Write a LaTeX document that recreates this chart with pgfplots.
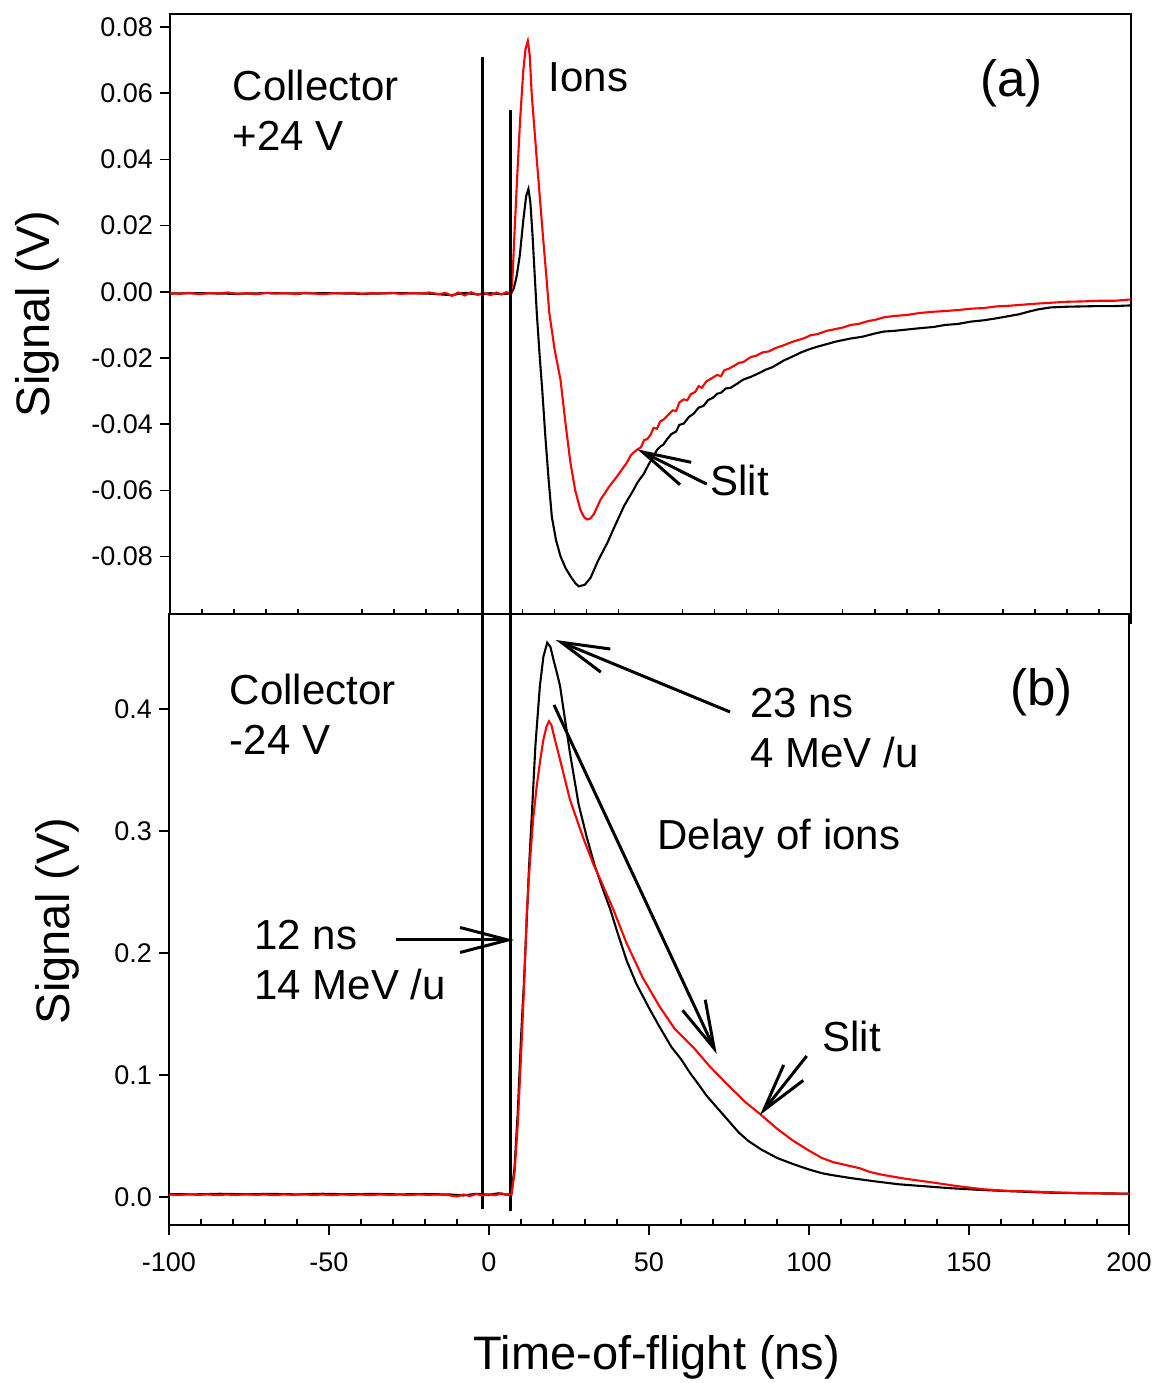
\documentclass[border=0pt]{standalone}
\usepackage{fontspec}
\setmainfont{Liberation Sans}
\usepackage{pgfplots}
\pgfplotsset{compat=1.18}
\usetikzlibrary{arrows.meta}

\pgfplotsset{
  panel/.style={
    scale only axis,
    xmin=-100, xmax=200,
    clip=false,
    scaled ticks=false,
    axis line style={line width=1pt},
    every tick/.style={line width=0.8pt, black},
    tick align=outside,
    major tick length=5pt,
    xtick={-100,-50,0,50,100,150,200},
    extra x ticks={-90,-80,-70,-60,-40,-30,-20,-10,10,20,30,40,60,70,80,90,110,120,130,140,160,170,180,190},
    extra x tick style={tick align=inside, major tick length=2.8pt},
    extra x tick labels={},
    xtick pos=left, ytick pos=left,
    ticklabel style={font=\fontsize{13.5}{15}\selectfont},
    xticklabel style={yshift=-5.5pt},
  },
}
\tikzset{
  ann/.style={font=\fontsize{21}{25}\selectfont, inner sep=0pt, anchor=base west},
  big/.style={font=\fontsize{25.5}{30}\selectfont, inner sep=0pt, anchor=base west},
  arr/.style={line width=1.5pt, -{Straight Barb[length=24pt,width=12.5pt]}},
  blk/.style={black, line width=1.05pt},
  rd/.style={red, line width=1.05pt},
}

\begin{document}
\begin{tikzpicture}
\useasboundingbox (-84.5pt,-79pt) rectangle (493pt,612.5pt);

% ---------------- panel (a) ----------------
\begin{axis}[panel,
  at={(0.5pt,305.25pt)}, anchor=south west,
  width=480.5pt, height=300.5pt,
  ymin=-0.0975, ymax=0.0841,
  ytick={-0.08,-0.06,-0.04,-0.02,0,0.02,0.04,0.06,0.08},
  yticklabels={-0.08,-0.06,-0.04,-0.02,0.00,0.02,0.04,0.06,0.08},
  xticklabels={},
]
\addplot[blk] coordinates {
(-100,-0.0005) (-90,-0.0004) (-80,-0.0006) (-70,-0.0004) (-60,-0.0005) (-50,-0.0004)
(-40,-0.0006) (-30,-0.0004) (-20,-0.0005) (-12,-0.0010) (-8,-0.0003) (-4,-0.0008)
(0,-0.0004) (3,-0.0007) (6.5,-0.0005)
(7.3,0.001) (8.2,0.0046) (9.2,0.011) (10.3,0.0217) (11.2,0.029) (11.9,0.0311)
(12.5,0.027) (13.2,0.0167) (13.8,0.006) (14.5,-0.0063) (15.3,-0.018) (16.2,-0.0296)
(17.2,-0.044) (18.2,-0.0568) (19.2,-0.068) (20.5,-0.075) (21.9,-0.0799) (23.5,-0.0835)
(25,-0.0859) (26.5,-0.0880) (27.6,-0.0890) (29.5,-0.0885) (31.3,-0.0864) (33.5,-0.0815)
(36.5,-0.0759) (39,-0.0705) (41.7,-0.0648)
(43,-0.0626) (44.5,-0.0602) (46,-0.0575) (47.9,-0.0550) (49.5,-0.0520) (51,-0.0495)
(52,-0.0478) (53.1,-0.0467) (54,-0.0462) (55.2,-0.0445) (56.5,-0.0430) (58,-0.0422)
(59,-0.0402) (60.4,-0.0398) (62,-0.0378) (63.5,-0.0368) (65,-0.0350) (66.5,-0.0345)
(68,-0.0327) (69.5,-0.0320) (70.8,-0.0308) (72,-0.0305) (73.5,-0.0292) (75,-0.0290)
(77,-0.0278) (79,-0.0265) (81.3,-0.0257) (84,-0.0245) (86,-0.0235) (88,-0.0228)
(91.7,-0.0207) (94,-0.0197) (97,-0.0183) (100,-0.0172) (102,-0.0166) (105,-0.0158)
(108,-0.0150) (112.5,-0.0141) (116,-0.0136) (120,-0.0126) (122.9,-0.0120) (126,-0.0118)
(130,-0.0114) (134,-0.0110) (138.5,-0.0106) (142,-0.0100) (146,-0.0097) (150,-0.0090)
(154,-0.0086) (158,-0.0080) (162,-0.0073) (165,-0.0068) (168,-0.0060) (171,-0.0053)
(175,-0.0047) (180,-0.0045) (185,-0.0044) (190,-0.0043) (195,-0.0043) (200,-0.0041)
};
\addplot[rd] coordinates {
(-100,-0.0004) (-97,-0.0006) (-94,-0.0003) (-91,-0.0007) (-88,-0.0004) (-85,-0.0005)
(-82,-0.0002) (-79,-0.0006) (-76,-0.0004) (-73,-0.0007) (-70,-0.0003) (-67,-0.0005)
(-64,-0.0004) (-61,-0.0006) (-58,-0.0003) (-55,-0.0005) (-52,-0.0007) (-49,-0.0004)
(-46,-0.0005) (-43,-0.0003) (-40,-0.0006) (-37,-0.0004) (-34,-0.0005) (-31,-0.0003)
(-28,-0.0006) (-25,-0.0004) (-22,-0.0005) (-19,-0.0002) (-16,-0.0007) (-14,-0.0003)
(-12,-0.0012) (-10,-0.0002) (-8,-0.0011) (-6,-0.0001) (-4,-0.0009) (-2,-0.0003)
(0,-0.0010) (2,-0.0002) (3.5,-0.0008) (5,-0.0001) (6.5,-0.0005)
(7.0,0.006) (7.7,0.021) (8.5,0.037) (9.3,0.052) (10.3,0.067) (11.0,0.0735) (11.7,0.0758)
(12.3,0.0715) (12.9,0.060) (13.7,0.050) (14.5,0.040) (15.5,0.028) (16.5,0.016)
(17.5,0.0045) (18.4,-0.0063) (20,-0.017) (21.9,-0.0266) (23.5,-0.040) (25,-0.0516)
(26.5,-0.060) (28.1,-0.0658) (29.2,-0.0680) (30.2,-0.0688) (31.2,-0.0685) (32.3,-0.0672)
(34.4,-0.0628) (37,-0.0590)
(39.6,-0.0557) (42.5,-0.0518)
(44,-0.0492) (45.8,-0.0477) (47,-0.0470) (48,-0.0448) (49,-0.0445) (50,-0.0432)
(51,-0.0411) (52,-0.0414) (53,-0.0392) (54.1,-0.0386) (55.5,-0.0372) (57,-0.0358)
(58,-0.0360) (59,-0.0334) (60.4,-0.0325) (61.5,-0.0328) (62.5,-0.0310) (64,-0.0302)
(65,-0.0285) (66,-0.0290) (67.5,-0.0270) (69,-0.0262) (70.8,-0.0251) (72,-0.0255)
(73,-0.0237) (74.5,-0.0232) (76,-0.0224) (77.5,-0.0215) (79,-0.0212) (81.3,-0.0197)
(83,-0.0193) (85,-0.0183) (87,-0.0180) (89,-0.0170) (91.7,-0.0161) (94,-0.0152)
(96,-0.0146) (98,-0.0140) (100,-0.0131) (102,-0.0128) (105,-0.0118) (108,-0.0112)
(110,-0.0108) (112.5,-0.0100) (115,-0.0097) (118,-0.0088) (120,-0.0085) (122.9,-0.0077)
(126,-0.0073) (130,-0.0070) (134,-0.0064) (138.5,-0.0060) (142,-0.0058) (146,-0.0055)
(150,-0.0051) (154,-0.0049) (158,-0.0044) (162,-0.0042) (166,-0.0039) (170,-0.0036)
(175,-0.0033) (180,-0.0030) (185,-0.0029) (190,-0.0027) (195,-0.0027) (200,-0.0023)
};
\node[ann] at (axis cs:-80.54,0.05791) {Collector};
\node[ann] at (axis cs:-80.54,0.04280) {+24 V};
\node[ann] at (axis cs:18.11,0.06041) {Ions};
\node[big] at (axis cs:152.9,0.0590) {(a)};
\node[ann] at (axis cs:68.59,-0.0615) {Slit};
\draw[arr] (axis cs:67.56,-0.05809) -- (axis cs:45.89,-0.04760);
\node[rotate=90, font=\fontsize{23.5}{27}\selectfont, inner sep=0pt]
  at (axis description cs:-0.1385,0.5) {Signal (V)};
\end{axis}

% ---------------- panel (b) ----------------
\begin{axis}[panel,
  at={(0pt,0pt)}, anchor=south west,
  width=480pt, height=305.25pt,
  axis background/.style={fill=white},
  ymin=-0.023, ymax=0.4776,
  ytick={0,0.1,0.2,0.3,0.4},
  yticklabels={0.0,0.1,0.2,0.3,0.4},
  xticklabels={-100,-50,0,50,100,150,200},
]
\draw[line width=1.7pt] (axis cs:-2.03,-0.0098) -- (axis cs:-2.03,0.9348);
\draw[line width=1.7pt] (axis cs:6.72,-0.0115) -- (axis cs:6.72,0.8914);
\addplot[blk] coordinates {
(-100,0.0024) (-92,0.0021) (-84,0.0026) (-76,0.0022) (-68,0.0025) (-60,0.0021)
(-52,0.0026) (-44,0.0022) (-36,0.0025) (-28,0.0021) (-20,0.0024) (-12,0.0020)
(-8,0.0012) (-4,0.0026) (0,0.0018) (3,0.0030) (5,0.0020) (7,0.0020)
(8,0.025) (9,0.07) (10,0.13) (11,0.18) (11.8,0.227) (12.5,0.27) (13.3,0.309)
(14.5,0.37) (15.9,0.419) (17,0.443) (18.2,0.4545) (19.2,0.451) (20.2,0.440)
(21.2,0.430) (22.2,0.419) (25.3,0.364) (28,0.322) (30.5,0.2955) (33,0.272)
(35.7,0.2516) (38,0.235) (40,0.218) (43,0.194) (46,0.175) (50,0.155) (53.4,0.139)
(57,0.123) (60,0.113) (63,0.101) (65,0.094) (68,0.083) (72,0.071) (75,0.062)
(78,0.053) (81,0.046) (85,0.039) (90,0.032) (95,0.027) (100,0.0225)
(104,0.0195) (107,0.018) (113,0.0155) (120,0.013) (128,0.0104) (136,0.0088)
(144,0.0072) (152,0.0060) (160,0.0050) (168,0.0042) (175,0.0035) (185,0.0030)
(200,0.0027)
};
\addplot[rd] coordinates {
(-100,0.0020) (-97,0.0016) (-94,0.0022) (-91,0.0017) (-88,0.0021) (-85,0.0015)
(-82,0.0020) (-79,0.0016) (-76,0.0022) (-73,0.0017) (-70,0.0020) (-67,0.0015)
(-64,0.0021) (-61,0.0017) (-58,0.0022) (-55,0.0016) (-52,0.0020) (-49,0.0015)
(-46,0.0021) (-43,0.0017) (-40,0.0020) (-37,0.0015) (-34,0.0021) (-31,0.0016)
(-28,0.0020) (-25,0.0015) (-22,0.0021) (-19,0.0017) (-16,0.0020) (-13,0.0016)
(-10,0.0004) (-8,0.0020) (-6,0.0008) (-4,0.0024) (-2,0.0012) (0,0.0022)
(2,0.0014) (4,0.0030) (5.5,0.0016) (7,0.002)
(8,0.02) (9,0.06) (10,0.115) (11,0.175) (11.8,0.2325) (12.8,0.275) (13.8,0.31)
(14.9,0.3366) (16,0.358) (17,0.375) (18,0.386) (18.75,0.390) (19.5,0.387)
(20.5,0.376) (22.2,0.3586) (25.3,0.3257) (29.5,0.294) (32.6,0.273) (35,0.259)
(38.8,0.236) (43,0.208) (48,0.180) (53.4,0.1557) (58,0.138) (63.8,0.1228)
(69,0.107) (74.3,0.0927) (80,0.078) (84.7,0.068) (90,0.056) (95.1,0.046)
(100,0.038) (104,0.032) (107.6,0.0285) (111,0.0265) (115.9,0.0235) (119,0.0205)
(123.2,0.018) (130,0.015) (138.8,0.0118) (146,0.009) (154.5,0.0063) (162,0.0050)
(170,0.0044) (180,0.0035) (190,0.0030) (200,0.0027)
};
\node[ann] at (axis cs:-81.16,0.4034) {Collector};
\node[ann] at (axis cs:-81.16,0.3624) {-24 V};
\node[big] at (axis cs:162.8,0.4030) {(b)};
\node[ann] at (axis cs:81.56,0.3928) {23 ns};
\node[ann] at (axis cs:81.56,0.3518) {4 MeV /u};
\node[ann] at (axis cs:52.5,0.2845) {Delay of ions};
\node[ann] at (axis cs:104.06,0.1189) {Slit};
\node[ann] at (axis cs:-73.44,0.2025) {12 ns};
\node[ann] at (axis cs:-73.44,0.1615) {14 MeV /u};
\draw[arr] (axis cs:75.31,0.3977) -- (axis cs:20.84,0.4567);
\draw[arr] (axis cs:20.31,0.4034) -- (axis cs:71.16,0.1173);
\draw[arr] (axis cs:99.28,0.1156) -- (axis cs:84.69,0.0672);
\draw[arr] (axis cs:-29.06,0.2107) -- (axis cs:7.81,0.2107);
\node[rotate=90, font=\fontsize{23.5}{27}\selectfont, inner sep=0pt]
  at (axis description cs:-0.1167,0.498) {Signal (V)};
\node[anchor=base, font=\fontsize{23.5}{27}\selectfont, inner sep=0pt]
  at (axis description cs:0.5083,-0.2375) {Time-of-flight (ns)};
\end{axis}
\end{tikzpicture}
\end{document}
